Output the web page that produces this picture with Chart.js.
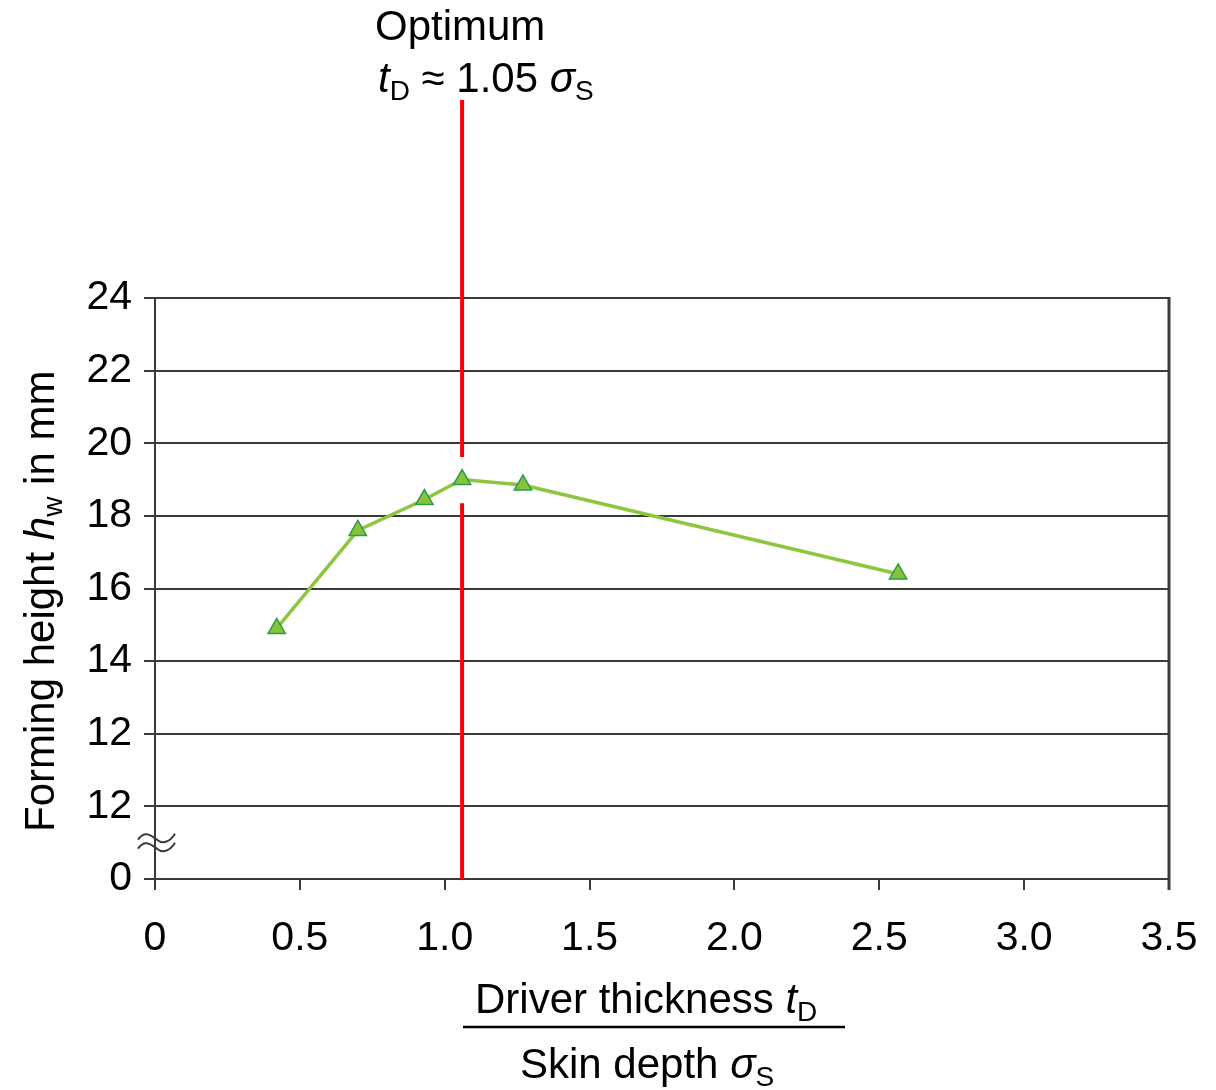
<!DOCTYPE html>
<html lang="en">
<head>
    <meta charset="UTF-8">
    <title>Forming height vs driver thickness</title>
    <style>
        body { margin: 0; background: #fff; }
        #wrap { width: 1216px; height: 1090px; }
    </style>
</head>
<body>
    <div id="wrap"><canvas id="chart" width="1216" height="1090"></canvas></div>

    <script src="https://cdn.jsdelivr.net/npm/chart.js"></script>
    <script>
        // ratio driver thickness / skin depth
        const ratios = [0.42, 0.70, 0.93, 1.06, 1.27, 2.565];
        // forming height (axis is broken below 12)
        const heights = [14.9, 17.6, 18.45, 19.0, 18.85, 16.4];
        // y tick values on the drawn scale and the labels printed there
        const yTickValues = [8, 10, 12, 14, 16, 18, 20, 22, 24];
        const yTickLabels = ['0', '12', '12', '14', '16', '18', '20', '22', '24'];
        const xTickLabels = ['0', '0.5', '1.0', '1.5', '2.0', '2.5', '3.0', '3.5'];
        const optimum = 1.06;
        const optimumGap = [18.35, 19.62];

        const FONT = '"Liberation Sans", Arial, sans-serif';
        const axisColor = '#3a3a3a';

        const overlay = {
            id: 'overlay',
            afterDraw(chart) {
                const ctx = chart.ctx;
                const xs = chart.scales.x, ys = chart.scales.y;
                const area = chart.chartArea;

                // right border
                ctx.save();
                ctx.strokeStyle = axisColor;
                ctx.lineWidth = 3;
                ctx.beginPath();
                ctx.moveTo(area.right, area.top - 1);
                ctx.lineTo(area.right, area.bottom + 11);
                ctx.stroke();

                // optimum marker
                const px = xs.getPixelForValue(optimum);
                ctx.strokeStyle = '#ff0000';
                ctx.lineWidth = 4;
                ctx.beginPath();
                ctx.moveTo(px, 100);
                ctx.lineTo(px, ys.getPixelForValue(optimumGap[1]));
                ctx.moveTo(px, ys.getPixelForValue(optimumGap[0]));
                ctx.lineTo(px, area.bottom);
                ctx.stroke();

                // axis break: two small waves across the y axis
                const by = ys.getPixelForValue(9);
                ctx.strokeStyle = axisColor;
                ctx.lineWidth = 2;
                [-5, 4].forEach(dy => {
                    const y0 = by + dy;
                    ctx.beginPath();
                    ctx.moveTo(area.left - 17, y0 + 2);
                    ctx.bezierCurveTo(area.left - 10, y0 - 8, area.left - 4, y0 - 2, area.left + 2, y0 + 2);
                    ctx.bezierCurveTo(area.left + 8, y0 + 7, area.left + 15, y0 + 4, area.left + 20, y0 - 4);
                    ctx.stroke();
                });

                ctx.fillStyle = '#000';
                ctx.textAlign = 'left';
                ctx.textBaseline = 'alphabetic';

                // label over the marker
                ctx.font = '42px ' + FONT;
                ctx.fillText('Optimum', 375, 40);
                drawRuns(ctx, 378, 92, [
                    ['t', 'italic 42px', 0],
                    ['D', '28px', 8],
                    [' \u2248 1.05 ', '42px', 0],
                    ['\u03c3', 'italic 42px', 0],
                    ['S', '28px', 8]
                ]);

                // x title as a fraction
                drawRuns(ctx, 475, 1013, [
                    ['Driver thickness ', '42px', 0],
                    ['t', 'italic 42px', 0],
                    ['D', '28px', 8]
                ]);
                ctx.strokeStyle = '#000';
                ctx.lineWidth = 2.5;
                ctx.beginPath();
                ctx.moveTo(463, 1027);
                ctx.lineTo(845, 1027);
                ctx.stroke();
                drawRuns(ctx, 520, 1078, [
                    ['Skin depth ', '42px', 0],
                    ['\u03c3', 'italic 42px', 0],
                    ['S', '28px', 8]
                ]);

                // y title
                ctx.translate(54, 832);
                ctx.rotate(-Math.PI / 2);
                drawRuns(ctx, 0, 0, [
                    ['Forming height ', '42px', 0],
                    ['h', 'italic 42px', 0],
                    ['w', '28px', 8],
                    [' in mm', '42px', 0]
                ]);
                ctx.restore();
            }
        };

        function drawRuns(ctx, x, y, runs) {
            runs.forEach(([text, font, drop]) => {
                ctx.font = font + ' ' + FONT;
                ctx.fillText(text, x, y + drop);
                x += ctx.measureText(text).width;
            });
        }

        new Chart(document.getElementById('chart'), {
            type: 'line',
            data: {
                datasets: [{
                    data: ratios.map((r, i) => ({ x: r, y: heights[i] })),
                    borderColor: '#8cc63f',
                    borderWidth: 3.5,
                    pointStyle: 'triangle',
                    pointRadius: 10,
                    pointBackgroundColor: '#86c23a',
                    pointBorderColor: '#2f9a4a',
                    pointBorderWidth: 1.5,
                    tension: 0
                }]
            },
            options: {
                responsive: false,
                animation: false,
                layout: { padding: { top: 298, right: 47, left: 0, bottom: 0 } },
                plugins: { legend: { display: false }, tooltip: { enabled: false } },
                scales: {
                    x: {
                        type: 'linear',
                        min: 0,
                        max: 3.5,
                        afterBuildTicks: (scale) => {
                            scale.ticks = xTickLabels.map((_, i) => ({ value: i * 0.5 }));
                        },
                        afterFit: (scale) => {
                            scale.height = 211;
                            scale.paddingLeft = 0;
                            scale.paddingRight = 0;
                        },
                        ticks: {
                            callback: (v, i) => xTickLabels[i],
                            color: '#000',
                            font: { family: FONT, size: 41 },
                            padding: 24,
                            maxRotation: 0
                        },
                        grid: {
                            drawOnChartArea: false,
                            drawTicks: true,
                            tickLength: 11,
                            color: axisColor,
                            lineWidth: 2
                        },
                        border: { color: axisColor, width: 2 }
                    },
                    y: {
                        type: 'linear',
                        min: 8,
                        max: 24,
                        afterBuildTicks: (scale) => {
                            scale.ticks = yTickValues.map(v => ({ value: v }));
                        },
                        afterFit: (scale) => {
                            scale.width = 155;
                            scale.paddingTop = 0;
                            scale.paddingBottom = 0;
                        },
                        ticks: {
                            callback: (v, i) => yTickLabels[i],
                            color: '#000',
                            font: { family: FONT, size: 41 },
                            padding: 12
                        },
                        grid: {
                            drawTicks: true,
                            tickLength: 11,
                            color: axisColor,
                            lineWidth: 2
                        },
                        border: { color: axisColor, width: 2 }
                    }
                }
            },
            plugins: [overlay]
        });
    </script>
</body>
</html>
